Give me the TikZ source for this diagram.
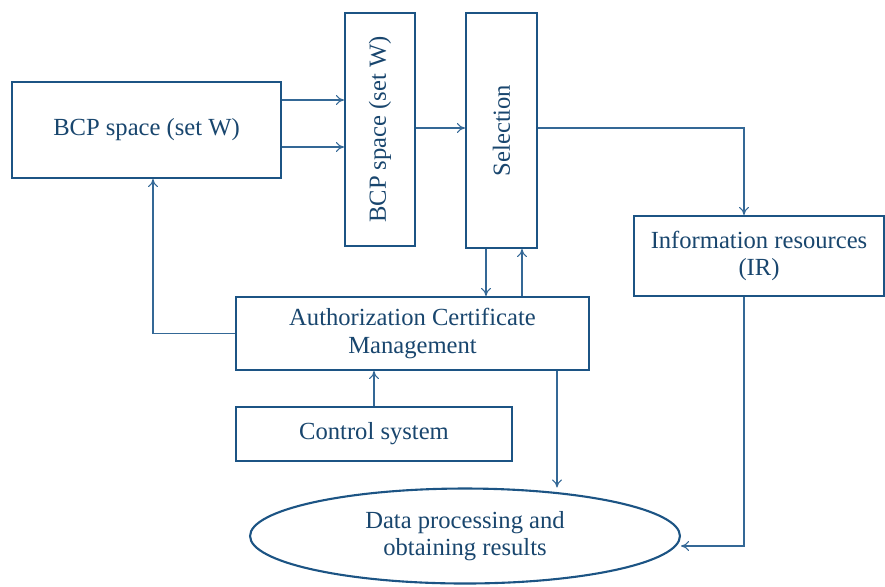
\documentclass[tikz,border=0pt]{standalone}
\usepackage{fontspec}
\setmainfont{Liberation Serif}
\usetikzlibrary{shapes.geometric,arrows.meta}
\definecolor{boxblue}{RGB}{28,84,132}
\definecolor{lineblue}{RGB}{52,104,150}
\definecolor{textblue}{RGB}{25,70,110}
\tikzset{
	block/.style={draw=boxblue, line width=1.2pt, fill=white, inner sep=2pt, align=center,
		text=textblue, font=\fontsize{14}{15.8}\selectfont},
	arr/.style={draw=lineblue, line width=0.6pt, -{To[length=1.6mm,width=2mm]}}
}

\begin{document}
\begin{tikzpicture}[x=0.02cm, y=-0.02cm]
		%%%%% START %%%%%
		\useasboundingbox (0,0) rectangle (885,586);
		
		\node[block, minimum width=5.38cm, minimum height=1.92cm] (bcp) at (146.5,130) {BCP space (set W)};
		\node[block, minimum width=1.4cm, minimum height=4.66cm] (bcpv) at (380,129.5) {};
		\node[rotate=90, text=textblue, font=\fontsize{14}{17}\selectfont] (bcpvtext) at (380,129.5) {BCP space (set W)};
		\node[block, minimum width=1.42cm, minimum height=4.7cm] (sel) at (501.5,130.5) {};
		\node[rotate=90, text=textblue, font=\fontsize{14}{17}\selectfont] (seltext) at (501.5,130.5) {Selection};
		\node[block, minimum width=5.0cm, minimum height=1.6cm] (ir) at (759,256) {Information resources\\(IR)};
		\node[block, minimum width=7.06cm, minimum height=1.46cm] (acm) at (412.5,333.5) {Authorization Certificate\\Management};
		\node[block, minimum width=5.52cm, minimum height=1.08cm] (ctrl) at (374,434) {Control system};
		\node[block, ellipse, inner sep=0pt, minimum width=8.6cm, minimum height=1.9cm] (dp) at (465,536) {Data processing and\\obtaining results};
		
		\coordinate (ya) at (0,100);
		\coordinate (yb) at (0,147);
		\coordinate (yc) at (0,128);
		\coordinate (xa) at (486,0);
		\coordinate (xb) at (522,0);
		\coordinate (xc) at (744,0);
		\coordinate (xd) at (153,0);
		\coordinate (xe) at (557,0);
		\coordinate (yd) at (0,546);
		
		\draw[arr] (bcp.east |- ya) -- (bcpv.west |- ya);
		\draw[arr] (bcp.east |- yb) -- (bcpv.west |- yb);
		\draw[arr] (bcpv.east |- yc) -- (sel.west |- yc);
		\draw[arr] (sel.east |- yc) -- (xc |- yc) -- (ir.north -| xc);
		
		\draw[arr] (sel.south -| xa) -- (acm.north -| xa);
		\draw[arr] (acm.north -| xb) -- (sel.south -| xb);
		\draw[arr] (acm.west) -- (xd |- acm.west) -- (bcp.south -| xd);
		\draw[arr] (ctrl.north) -- (acm.south -| ctrl.north);
		\draw[arr] (acm.south -| xe) -- (dp.north -| xe);
		\draw[arr] (ir.south -| xc) -- (xc |- yd) -- (dp.east |- yd);
		
		%%%%% END %%%%%
\end{tikzpicture}
\end{document}
